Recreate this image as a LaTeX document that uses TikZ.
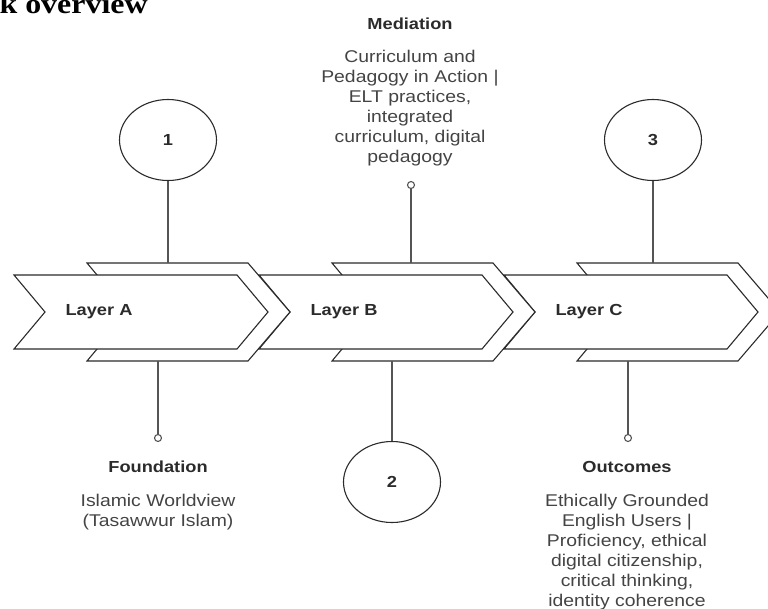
\documentclass[tikz,border=0pt]{standalone}
\usepackage{fontspec}
\setsansfont[FakeStretch=1.14]{Liberation Sans}
\newfontfamily\titlefont[FakeStretch=1.14]{Liberation Serif}
\usetikzlibrary{shapes.geometric}
\definecolor{cink}{HTML}{2B2B2B}
\definecolor{cline}{HTML}{555555}
\definecolor{ctext}{HTML}{444444}
\tikzset{
  every picture/.style={font=\sffamily, line width=1.1pt},
  band/.style={draw=cink, fill=white, line join=miter},
  layer/.style={font=\sffamily\bfseries\fontsize{16}{19}\selectfont, text=cink, inner sep=0pt, anchor=west},
  stage/.style={ellipse, draw=cink, fill=white, minimum width=97pt, minimum height=81pt, inner sep=0pt, font=\sffamily\bfseries\fontsize{16}{19}\selectfont, text=cink},
  pin/.style={circle, draw=cline, fill=white, minimum size=7pt, inner sep=0pt},
  link/.style={draw=cline},
  head/.style={font=\sffamily\bfseries\fontsize{16}{19}\selectfont, text=cink, inner sep=0pt},
  body/.style={font=\sffamily\fontsize{17}{20}\selectfont, text=ctext, align=center, inner sep=0pt},
}

\begin{document}
\begin{tikzpicture}[x=1pt, y=-1pt]
  \useasboundingbox (0,0) rectangle (768,608);
  \node[anchor=base west, inner sep=0pt, font=\titlefont\bfseries\fontsize{28}{30}\selectfont] (title) at (-1,13) {k overview};
  % layers, drawn right to left so that each one lies over the next
  \foreach \lx/\nm in {504/C, 259/B, 14/A} {
    \draw[band] (\lx+73,263) -- (\lx+234,263) -- (\lx+276,312) -- (\lx+234,361) -- (\lx+73,361) -- (\lx+114,312) -- cycle;
    \draw[band] (\lx,275) -- (\lx+223,275) -- (\lx+254,312) -- (\lx+223,349) -- (\lx,349) -- (\lx+31,312) -- cycle;
    \node[layer] (layer\nm) at (\lx+51,312) {Layer \nm};
  }
  \coordinate (topA) at (168,263);
  \coordinate (topB) at (411,263);
  \coordinate (topC) at (653,263);
  \coordinate (botA) at (158,361);
  \coordinate (botB) at (392,361);
  \coordinate (botC) at (628,361);
  % numbered stages
  \node[stage] (num1) at (168,140) {1};
  \node[stage] (num2) at (392,482) {2};
  \node[stage] (num3) at (653,140) {3};
  \draw[link] (num1) -- (topA);
  \draw[link] (num2) -- (botB);
  \draw[link] (num3) -- (topC);
  % pins
  \node[pin] (pinM) at (411,185) {};
  \node[pin] (pinF) at (158,438) {};
  \node[pin] (pinO) at (628,438) {};
  \draw[link] (pinM) -- (topB);
  \draw[link] (botA) -- (pinF);
  \draw[link] (botC) -- (pinO);
  % texts
  \node[head] (headM) at (410,24) {Mediation};
  \node[body] (textM) at (410,108.5) {Curriculum and\\Pedagogy in Action |\\ELT practices,\\integrated\\curriculum, digital\\pedagogy};
  \node[head] (headF) at (158,467) {Foundation};
  \node[body] (textF) at (158,512) {Islamic Worldview\\(Tasawwur Islam)};
  \node[head] (headO) at (627,467) {Outcomes};
  \node[body] (textO) at (627,552) {Ethically Grounded\\English Users |\\Proficiency, ethical\\digital citizenship,\\critical thinking,\\identity coherence};
\end{tikzpicture}
\end{document}
